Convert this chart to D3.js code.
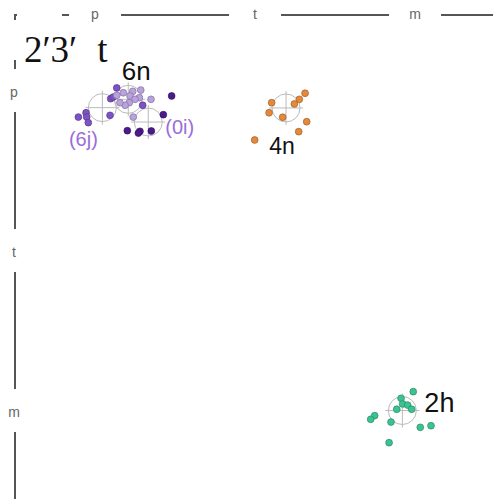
<!DOCTYPE html>
<html>
<head>
<meta charset="utf-8">
<script src="https://cdn.jsdelivr.net/npm/d3@7"></script>
<style>
  html, body { margin: 0; padding: 0; background: #fff; }
</style>
</head>
<body>
<svg width="493" height="499"></svg>
<script>
var svg = d3.select("svg"),
  width = +svg.attr("width"),
  height = +svg.attr("height");

// tick labels on both axes
var categories = ["p", "t", "m"];
var titleParts = ["2′3′", "t"];

// clusters: name, center, points (axis units, 0..3)
var groupNames = ["6n", "(6j)", "(0i)", "4n", "2h"];
var centerX = [0.708, 0.546, 0.833, 1.694, 2.421];
var centerY = [0.527, 0.579, 0.669, 0.581, 2.472];

var x6n = [0.677, 0.636, 0.736, 0.786, 0.777, 0.719, 0.75, 0.714, 0.688, 0.656, 0.85, 0.739];
var y6n = [0.486, 0.502, 0.477, 0.469, 0.517, 0.506, 0.527, 0.548, 0.564, 0.548, 0.527, 0.638];

var x6j = [0.396, 0.444, 0.448, 0.458, 0.594, 0.598, 0.614, 0.636, 0.798];
var y6j = [0.638, 0.611, 0.638, 0.673, 0.627, 0.523, 0.513, 0.456, 0.564];

var x0i = [0.979, 0.927, 0.702, 0.781, 0.771, 0.852];
var y0i = [0.506, 0.623, 0.723, 0.727, 0.738, 0.725];

var x4n = [1.604, 1.813, 1.777, 1.746, 1.588, 1.673, 1.823, 1.773, 1.498];
var y4n = [0.548, 0.489, 0.527, 0.556, 0.611, 0.639, 0.667, 0.729, 0.781];

var x2h = [2.489, 2.413, 2.423, 2.454, 2.479, 2.386, 2.248, 2.223, 2.35, 2.6, 2.533, 2.338];
var y2h = [2.354, 2.396, 2.431, 2.438, 2.464, 2.464, 2.504, 2.527, 2.544, 2.567, 2.577, 2.673];

var colors = ["#b9a2dd", "#7d52c6", "#4c1a8c", "#e4893a", "#3cc392"];
var labelColors = ["#111", "#9a6ddb", "#9a6ddb", "#111", "#111"];

var xScale = d3.scaleLinear().domain([0, 3]).range([15, 495]);
var yScale = d3.scaleLinear().domain([0, 3]).range([15, 495]);
var band = d3.scaleBand().domain(categories).range([0, 3]);
function tickVal(c) {
  return band(c) + band.bandwidth() / 2;
}

// range-frame style axes: one line broken around each tick label
function segments(start, end, gaps) {
  var segs = [];
  var cur = start;
  gaps.forEach(function (g) {
    if (g[0] > cur) segs.push([cur, g[0]]);
    cur = g[1];
  });
  if (end > cur) segs.push([cur, end]);
  return segs;
}

var topGaps = [[17, 62]].concat(categories.map(function (c) {
  var p = xScale(tickVal(c));
  return [p - 26, p + 26];
}));
var leftGaps = [[20, 60]].concat(categories.map(function (c) {
  var p = yScale(tickVal(c));
  return [p - 26, p + 17];
}));

var axisG = svg.append("g");
axisG
  .selectAll("line.top")
  .data(segments(14, width, topGaps))
  .enter()
  .append("line")
  .attr("x1", function (d) { return d[0]; })
  .attr("x2", function (d) { return d[1]; })
  .attr("y1", 15)
  .attr("y2", 15)
  .attr("stroke", "#555")
  .attr("stroke-width", 2);
axisG
  .selectAll("line.left")
  .data(segments(14, height, leftGaps))
  .enter()
  .append("line")
  .attr("y1", function (d) { return d[0]; })
  .attr("y2", function (d) { return d[1]; })
  .attr("x1", 15)
  .attr("x2", 15)
  .attr("stroke", "#555")
  .attr("stroke-width", 2);

axisG
  .selectAll("text.xt")
  .data(categories)
  .enter()
  .append("text")
  .attr("x", function (d) { return xScale(tickVal(d)); })
  .attr("y", 19)
  .attr("text-anchor", "middle")
  .attr("font-family", "Liberation Sans, Arial, sans-serif")
  .attr("font-size", 14)
  .attr("fill", "#666")
  .text(function (d) { return d; });
axisG
  .selectAll("text.yt")
  .data(categories)
  .enter()
  .append("text")
  .attr("x", 14)
  .attr("y", function (d) { return yScale(tickVal(d)) + 2; })
  .attr("text-anchor", "middle")
  .attr("font-family", "Liberation Sans, Arial, sans-serif")
  .attr("font-size", 14)
  .attr("fill", "#666")
  .text(function (d) { return d; });

// title
var title = svg
  .append("text")
  .attr("x", 24)
  .attr("y", 62)
  .attr("font-family", "Liberation Serif, Times New Roman, serif")
  .attr("font-size", 37)
  .attr("fill", "#111");
title.append("tspan").text(titleParts[0]);
title.append("tspan").attr("dx", 20).text(titleParts[1]);

// crosshairs at cluster centres
var centers = groupNames.map(function (n, i) {
  return { name: n, x: xScale(centerX[i]), y: yScale(centerY[i]), i: i };
});
var cross = svg.selectAll("g.cross").data(centers).enter().append("g");
cross
  .append("circle")
  .attr("cx", function (d) { return d.x; })
  .attr("cy", function (d) { return d.y; })
  .attr("r", 14)
  .attr("fill", "none")
  .attr("stroke", "#bbb")
  .attr("stroke-width", 1);
cross
  .append("line")
  .attr("x1", function (d) { return d.x - 17; })
  .attr("x2", function (d) { return d.x + 17; })
  .attr("y1", function (d) { return d.y; })
  .attr("y2", function (d) { return d.y; })
  .attr("stroke", "#bbb");
cross
  .append("line")
  .attr("x1", function (d) { return d.x; })
  .attr("x2", function (d) { return d.x; })
  .attr("y1", function (d) { return d.y - 17; })
  .attr("y2", function (d) { return d.y + 17; })
  .attr("stroke", "#bbb");

// points
var seriesX = [x6n, x6j, x0i, x4n, x2h];
var seriesY = [y6n, y6j, y0i, y4n, y2h];
var order = [1, 2, 0, 3, 4];
order.forEach(function (k) {
  var pts = seriesX[k].map(function (v, j) { return [v, seriesY[k][j]]; });
  svg
    .append("g")
    .selectAll("circle")
    .data(pts)
    .enter()
    .append("circle")
    .attr("cx", function (d) { return xScale(d[0]); })
    .attr("cy", function (d) { return yScale(d[1]); })
    .attr("r", 3.4)
    .attr("fill", colors[k])
    .attr("stroke", d3.color(colors[k]).darker(1))
    .attr("stroke-width", 0.7);
});

// cluster labels
var labelDx = [8, -19, 17, -4, 22];
var labelDy = [-19, 38, 12, 46, 1];
var labelSize = [26, 20, 20, 23, 27];
var labelAnchor = ["middle", "middle", "start", "middle", "start"];
svg
  .selectAll("text.lbl")
  .data(centers)
  .enter()
  .append("text")
  .attr("x", function (d) { return d.x + labelDx[d.i]; })
  .attr("y", function (d) { return d.y + labelDy[d.i]; })
  .attr("text-anchor", function (d) { return labelAnchor[d.i]; })
  .attr("font-family", "Liberation Sans, Arial, sans-serif")
  .attr("font-size", function (d) { return labelSize[d.i]; })
  .attr("fill", function (d) { return labelColors[d.i]; })
  .text(function (d) { return d.name; });
</script>
</body>
</html>
